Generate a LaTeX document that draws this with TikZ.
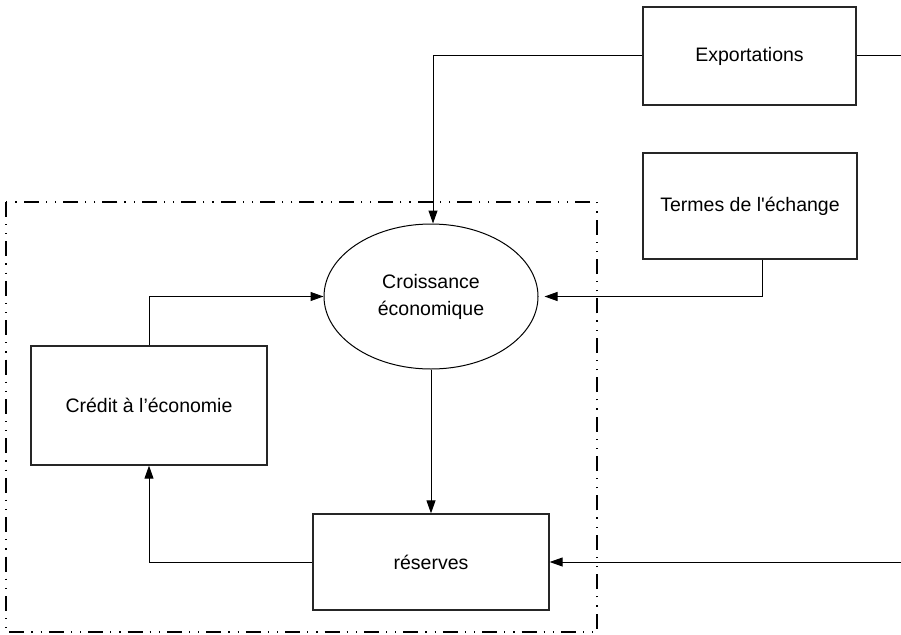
\documentclass[tikz,border=0pt]{standalone}
\usepackage{fontspec}
\setmainfont{Liberation Sans}
\newfontfamily\plainapos{Liberation Sans}[Ligatures=TeXOff]
\usetikzlibrary{arrows.meta,shapes.geometric}
\begin{document}
\begin{tikzpicture}[x=1pt,y=-1pt,
  box/.style={draw=black!85,line width=1.3pt,rectangle,inner sep=0pt,align=center},
  conn/.style={line width=1pt,-{Triangle[length=13pt,width=9pt]}},
  plain/.style={line width=1pt},
  frame/.style={line width=2.2pt,dash pattern=on 15pt off 7pt on 1.2pt off 8pt on 1.2pt off 7pt},
  every node/.style={font=\fontsize{19.5}{24}\selectfont}]
\useasboundingbox (0,0) rectangle (901,634);
\draw[frame] (6,202) rectangle (597,632);
\node[box,minimum width=213pt,minimum height=98pt] (exp) at (749.5,56) {Exportations};
\node[box,minimum width=214pt,minimum height=106pt] (ter) at (750,206) {\plainapos Termes de l'échange};
\node[draw,line width=1pt,ellipse,minimum width=214pt,minimum height=145pt,inner sep=0pt,align=center] (cro) at (431,296.5) {Croissance\\[3pt]économique};
\node[box,minimum width=236pt,minimum height=119pt] (cre) at (149,405.5) {Crédit à l’économie};
\node[box,minimum width=236pt,minimum height=96pt] (res) at (431,562) {réserves};
\coordinate (rin) at (901,562);
\coordinate (rout) at (901,56);
\draw[conn] (exp.west) -| ([xshift=2pt]cro.north);
\draw[plain] (exp.east) -- (rout);
\draw[conn] ([xshift=12pt]ter.south) |- ([xshift=6pt]cro.east);
\draw[conn] (cre.north) |- (cro.west);
\draw[conn] (cro.south) -- (res.north);
\draw[conn] (res.west) -| (cre.south);
\draw[conn] (rin) -- (res.east);
\end{tikzpicture}
\end{document}
